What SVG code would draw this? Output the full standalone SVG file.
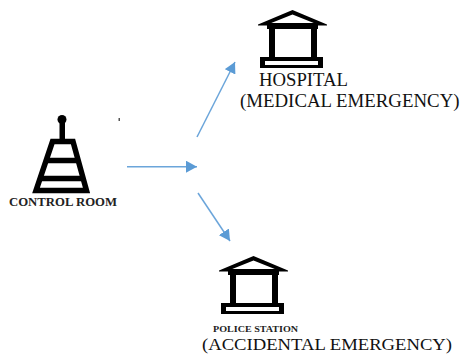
<svg xmlns="http://www.w3.org/2000/svg" width="460" height="354" viewBox="0 0 460 354">
<style>
.l{fill:none;stroke:#000;stroke-width:5.500;stroke-linejoin:miter}
.t{font-family:"Liberation Serif",serif;fill:#111}
.b{font-family:"Liberation Serif",serif;font-weight:bold;fill:#222}
.c{fill:none;stroke:#6ba5da;stroke-width:1.500;marker-end:url(#a)}
</style>
<defs>
<marker id="a" markerUnits="userSpaceOnUse" markerWidth="12" markerHeight="12" refX="11" refY="6" orient="auto"><path d="M0 0L11 6L0 12Z" fill="#5b9bd5"/></marker>
<g id="house">
<path d="M0 14.500L34.500 0L69 14.500L69 15.500L0 15.500ZM12 13.500L34.500 4.500L57 13.500Z" fill="#000" fill-rule="evenodd"/>
<rect x="9" y="13" width="51" height="6"/>
<rect x="11" y="14" width="6" height="36"/>
<rect x="53" y="14" width="6" height="36"/>
<path d="M2 47H65V58H2ZM7 51V55H60V51Z" fill-rule="evenodd"/>
</g>
</defs>
<g id="connectors">
<path class="c" d="M127 166.700H197"/>
<path class="c" d="M197 137L235 62"/>
<path class="c" d="M198 193L230 241"/>
</g>
<g id="control-room">
<circle cx="62" cy="119.500" r="4.500"/>
<rect x="59.500" y="120" width="5.500" height="22"/>
<path class="l" d="M52.500 141.500H73L86.500 190.500H36Z"/>
<path class="l" d="M46 160.500H79M41 178.500H84"/>
<rect x="118.500" y="118" width="1.500" height="3" fill="#555"/>
<text class="b" x="9" y="206" font-size="11.500" textLength="108" lengthAdjust="spacingAndGlyphs">CONTROL ROOM</text>
</g>
<g id="hospital">
<use href="#house" x="258" y="10"/>
<text class="t" x="259" y="86" font-size="18" textLength="89" lengthAdjust="spacingAndGlyphs">HOSPITAL</text>
<text class="t" x="240" y="107" font-size="18" textLength="219.500" lengthAdjust="spacingAndGlyphs">(MEDICAL EMERGENCY)</text>
</g>
<g id="police-station">
<use href="#house" x="219" y="256"/>
<text class="b" x="213" y="332" font-size="8.500" textLength="85" lengthAdjust="spacingAndGlyphs">POLICE STATION</text>
<text class="t" x="202" y="350" font-size="17.500" textLength="250" lengthAdjust="spacingAndGlyphs">(ACCIDENTAL EMERGENCY)</text>
</g>
</svg>
